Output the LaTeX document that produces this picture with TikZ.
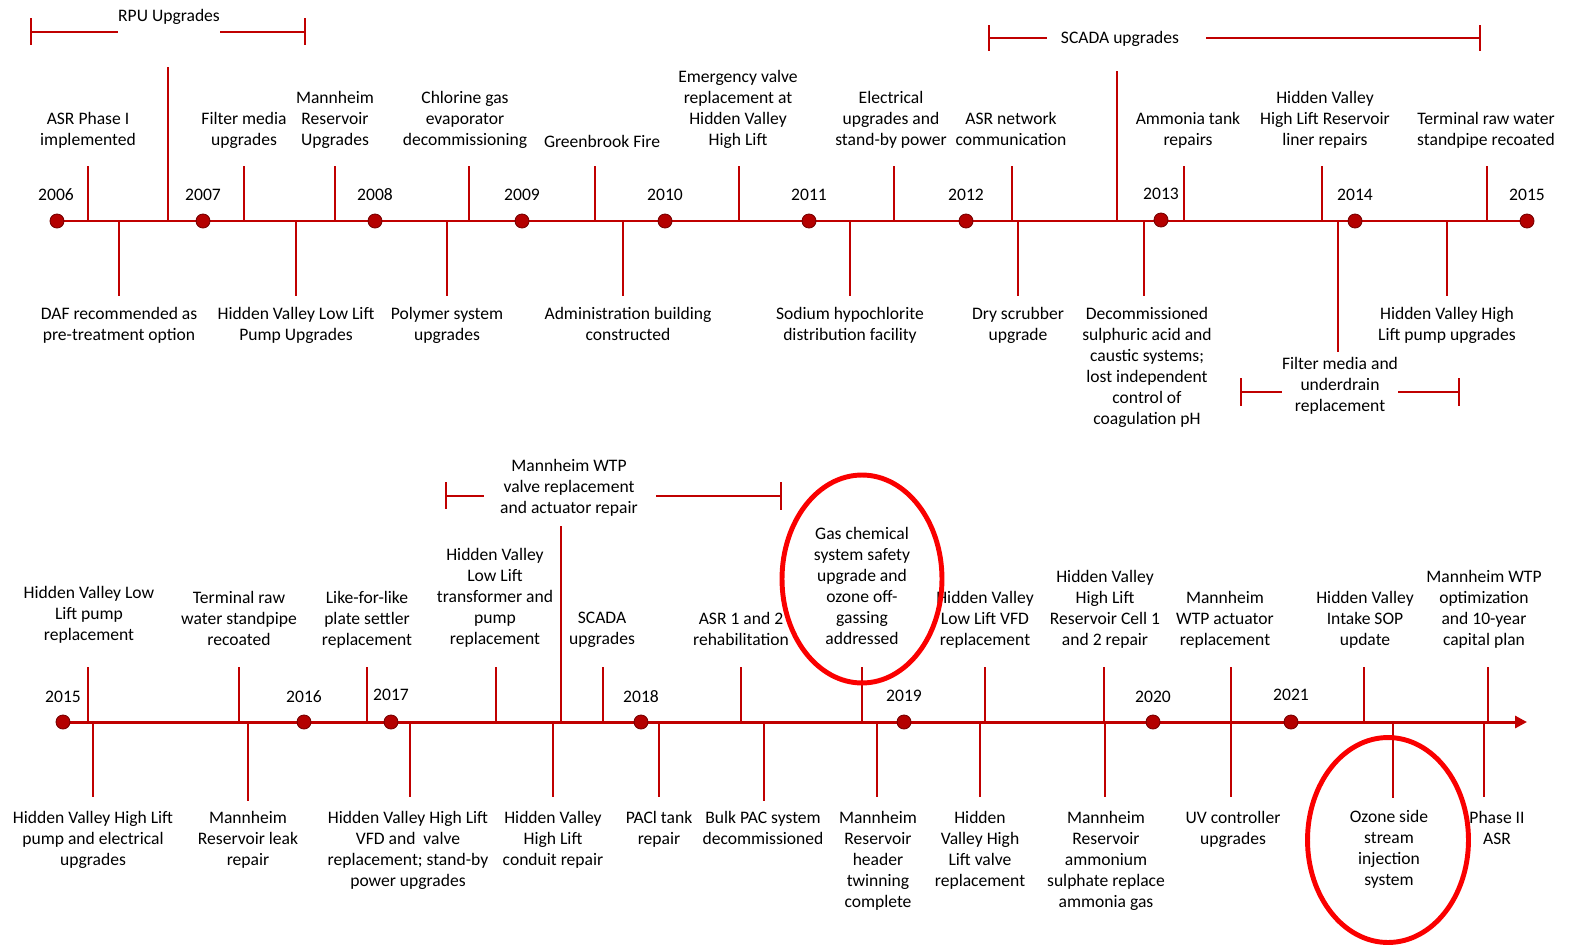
\documentclass[tikz,border=0pt]{standalone}
\usepackage{fontspec}
\setmainfont{Carlito}
\usetikzlibrary{arrows.meta,calc,shapes.geometric}
\definecolor{tlred}{RGB}{192,0,0}
\definecolor{dotred}{RGB}{180,0,0}
\definecolor{rimred}{RGB}{120,0,0}
\definecolor{ringred}{RGB}{250,0,0}

\begin{document}
\begin{tikzpicture}[x=0.02cm, y=-0.02cm, font=\fontsize{10}{12}\selectfont,
		tline/.style={tlred, line width=1.7pt},
		evtick/.style={tlred, line width=1.1pt},
		yeardot/.style={circle, fill=dotred, draw=rimred, line width=0.5pt, inner sep=0pt, minimum size=0.28cm},
		yearlbl/.style={inner sep=0pt, yshift=-0.02cm},
		evlabel/.style={align=center, anchor=north, inner sep=0pt, yshift=-0.02cm},
		ring/.style={ellipse, draw=ringred, line width=2.8pt, inner sep=0pt}]
		\path[use as bounding box] (0,0) rectangle (1569,947);
		
		% 2006 - 2015
		\coordinate (s1) at (57,221);
		\coordinate (e1) at (1527,221);
		\draw[tline] (s1) -- (e1);
		
		\node[evlabel] (asr) at (88,111) {ASR Phase I\\implemented};
		\coordinate (asrpt) at (88,221);
		\draw[evtick] (asrpt) -- ++(0,-55);
		\coordinate (rpupt) at (168,221);
		\draw[evtick] (rpupt) -- ++(0,-154);
		\node[evlabel] (filter) at (244,111) {Filter media\\upgrades};
		\coordinate (filterpt) at (244,221);
		\draw[evtick] (filterpt) -- ++(0,-55);
		\node[evlabel] (mannres) at (335,90) {Mannheim\\Reservoir\\Upgrades};
		\coordinate (mannrespt) at (335,221);
		\draw[evtick] (mannrespt) -- ++(0,-55);
		\node[evlabel] (chlorine) at (465,90) {Chlorine gas\\evaporator\\decommissioning};
		\coordinate (chlorinept) at (469,221);
		\draw[evtick] (chlorinept) -- ++(0,-55);
		\node[evlabel] (fire) at (602,134) {Greenbrook Fire};
		\coordinate (firept) at (595,221);
		\draw[evtick] (firept) -- ++(0,-55);
		\node[evlabel] (emerg) at (738,69) {Emergency valve\\replacement at\\Hidden Valley\\High Lift};
		\coordinate (emergpt) at (739,221);
		\draw[evtick] (emergpt) -- ++(0,-55);
		\node[evlabel] (elec) at (891,90) {Electrical\\upgrades and\\stand-by power};
		\coordinate (elecpt) at (894,221);
		\draw[evtick] (elecpt) -- ++(0,-55);
		\node[evlabel] (asrnet) at (1011,111) {ASR network\\communication};
		\coordinate (asrnetpt) at (1012,221);
		\draw[evtick] (asrnetpt) -- ++(0,-55);
		\coordinate (scadapt) at (1117,221);
		\draw[evtick] (scadapt) -- ++(0,-150);
		\node[evlabel] (ammonia) at (1188,111) {Ammonia tank\\repairs};
		\coordinate (ammoniapt) at (1184,221);
		\draw[evtick] (ammoniapt) -- ++(0,-55);
		\node[evlabel] (hvliner) at (1325,90) {Hidden Valley\\High Lift Reservoir\\liner repairs};
		\coordinate (hvlinerpt) at (1322,221);
		\draw[evtick] (hvlinerpt) -- ++(0,-55);
		\node[evlabel] (terminal) at (1486,111) {Terminal raw water\\standpipe recoated};
		\coordinate (terminalpt) at (1487,221);
		\draw[evtick] (terminalpt) -- ++(0,-55);
		
		\node[evlabel] (daf) at (119,306) {DAF recommended as\\pre-treatment option};
		\coordinate (dafpt) at (119,221);
		\draw[evtick] (dafpt) -- ++(0,75);
		\node[evlabel] (hvlow) at (296,306) {Hidden Valley Low Lift\\Pump Upgrades};
		\coordinate (hvlowpt) at (296,221);
		\draw[evtick] (hvlowpt) -- ++(0,75);
		\node[evlabel] (polymer) at (447,306) {Polymer system\\upgrades};
		\coordinate (polymerpt) at (447,221);
		\draw[evtick] (polymerpt) -- ++(0,75);
		\node[evlabel] (admin) at (628,306) {Administration building\\constructed};
		\coordinate (adminpt) at (623,221);
		\draw[evtick] (adminpt) -- ++(0,75);
		\node[evlabel] (sodium) at (850,306) {Sodium hypochlorite\\distribution facility};
		\coordinate (sodiumpt) at (850,221);
		\draw[evtick] (sodiumpt) -- ++(0,75);
		\node[evlabel] (dry) at (1018,306) {Dry scrubber\\upgrade};
		\coordinate (drypt) at (1018,221);
		\draw[evtick] (drypt) -- ++(0,75);
		\node[evlabel] (decomm) at (1147,306) {Decommissioned\\sulphuric acid and\\caustic systems;\\lost independent\\control of\\coagulation pH};
		\coordinate (decommpt) at (1144,221);
		\draw[evtick] (decommpt) -- ++(0,75);
		\node[evlabel] (underdrain) at (1340,356) {Filter media and\\underdrain\\replacement};
		\coordinate (underdrainpt) at (1338,221);
		\draw[evtick] (underdrainpt) -- ++(0,131);
		\node[evlabel] (hvhigh) at (1447,306) {Hidden Valley High\\Lift pump upgrades};
		\coordinate (hvhighpt) at (1447,221);
		\draw[evtick] (hvhighpt) -- ++(0,75);
		
		% spans
		\node[inner sep=0pt] (rpu) at (169,17) {RPU Upgrades};
		\coordinate (rpua) at (31,32);
		\coordinate (rpub) at (305,32);
		\draw[evtick] (rpua) -- (rpua -| rpu.west);
		\draw[evtick] (rpu.east |- rpub) -- (rpub);
		\draw[evtick] (rpua) ++(0,-14) -- ++(0,27);
		\draw[evtick] (rpub) ++(0,-14) -- ++(0,27);
		\node[inner sep=0pt] (scada) at (1120,39) {SCADA upgrades};
		\coordinate (scadaa) at (989,38);
		\coordinate (scadab) at (1480,38);
		\draw[evtick] (scadaa) -- ($(scadaa -| scada.west)+(-14,0)$);
		\draw[evtick] ($(scada.east |- scadab)+(27,0)$) -- (scadab);
		\draw[evtick] (scadaa) ++(0,-13) -- ++(0,26);
		\draw[evtick] (scadab) ++(0,-13) -- ++(0,26);
		\coordinate (undera) at (1241,392);
		\coordinate (underb) at (1459,392);
		\draw[evtick] (undera) -- (undera -| underdrain.west);
		\draw[evtick] (underdrain.east |- underb) -- (underb);
		\draw[evtick] (undera) ++(0,-14) -- ++(0,28);
		\draw[evtick] (underb) ++(0,-14) -- ++(0,28);
		
		\node[yeardot] (d06) at (57,221) {};
		\node[yeardot] (d07) at (203,221) {};
		\node[yeardot] (d08) at (375,221) {};
		\node[yeardot] (d09) at (522,221) {};
		\node[yeardot] (d10) at (665,221) {};
		\node[yeardot] (d11) at (809,221) {};
		\node[yeardot] (d12) at (966,221) {};
		\node[yeardot] (d13) at (1161,220) {};
		\node[yeardot] (d14) at (1355,221) {};
		\node[yeardot] (d15) at (1527,221) {};
		\node[yearlbl] (l06) at (56,194) {2006};
		\node[yearlbl] (l07) at (203,194) {2007};
		\node[yearlbl] (l08) at (375,194) {2008};
		\node[yearlbl] (l09) at (522,194) {2009};
		\node[yearlbl] (l10) at (665,194) {2010};
		\node[yearlbl] (l11) at (809,194) {2011};
		\node[yearlbl] (l12) at (966,194) {2012};
		\node[yearlbl] (l13) at (1161,193) {2013};
		\node[yearlbl] (l14) at (1355,194) {2014};
		\node[yearlbl] (l15) at (1527,194) {2015};
		
		% 2015 - 2021
		\coordinate (s2) at (63,722);
		\coordinate (e2) at (1527,722);
		\draw[tline, -{Triangle[length=0.24cm, width=0.24cm]}] (s2) -- (e2);
		
		\node[evlabel] (hvlowrep) at (89,585) {Hidden Valley Low\\Lift pump\\replacement};
		\coordinate (hvlowreppt) at (88,722);
		\draw[evtick] (hvlowreppt) -- ++(0,-55);
		\node[evlabel] (terminalb) at (239,590) {Terminal raw\\water standpipe\\recoated};
		\coordinate (terminalbpt) at (239,722);
		\draw[evtick] (terminalbpt) -- ++(0,-55);
		\node[evlabel] (settler) at (367,590) {Like-for-like\\plate settler\\replacement};
		\coordinate (settlerpt) at (367,722);
		\draw[evtick] (settlerpt) -- ++(0,-55);
		\node[evlabel] (hvtrans) at (495,547) {Hidden Valley\\Low Lift\\transformer and\\pump\\replacement};
		\coordinate (hvtranspt) at (496,722);
		\draw[evtick] (hvtranspt) -- ++(0,-55);
		\coordinate (mwtppt) at (561,722);
		\draw[evtick] (mwtppt) -- ++(0,-196);
		\node[evlabel] (scadab) at (602,611) {SCADA\\upgrades};
		\coordinate (scadabpt) at (603,722);
		\draw[evtick] (scadabpt) -- ++(0,-55);
		\node[evlabel] (asrreh) at (741,611) {ASR 1 and 2\\rehabilitation};
		\coordinate (asrrehpt) at (741,722);
		\draw[evtick] (asrrehpt) -- ++(0,-55);
		\node[evlabel] (gaschem) at (862,526) {Gas chemical\\system safety\\upgrade and\\ozone off-\\gassing\\addressed};
		\coordinate (gaschempt) at (862,722);
		\draw[evtick] (gaschempt) -- ++(0,-55);
		\node[evlabel] (hvvfd) at (985,590) {Hidden Valley\\Low Lift VFD\\replacement};
		\coordinate (hvvfdpt) at (985,722);
		\draw[evtick] (hvvfdpt) -- ++(0,-55);
		\node[evlabel] (hvcell) at (1105,569) {Hidden Valley\\High Lift\\Reservoir Cell 1\\and 2 repair};
		\coordinate (hvcellpt) at (1104,722);
		\draw[evtick] (hvcellpt) -- ++(0,-55);
		\node[evlabel] (mwtpact) at (1225,590) {Mannheim\\WTP actuator\\replacement};
		\coordinate (mwtpactpt) at (1231,722);
		\draw[evtick] (mwtpactpt) -- ++(0,-55);
		\node[evlabel] (hvsop) at (1365,590) {Hidden Valley\\Intake SOP\\update};
		\coordinate (hvsoppt) at (1364,722);
		\draw[evtick] (hvsoppt) -- ++(0,-55);
		\node[evlabel] (mwtpopt) at (1484,569) {Mannheim WTP\\optimization\\and 10-year\\capital plan};
		\coordinate (mwtpoptpt) at (1488,722);
		\draw[evtick] (mwtpoptpt) -- ++(0,-55);
		
		\node[evlabel] (hvelec) at (93,810) {Hidden Valley High Lift\\pump and electrical\\upgrades};
		\coordinate (hvelecpt) at (93,722);
		\draw[evtick] (hvelecpt) -- ++(0,75);
		\node[evlabel] (leak) at (248,810) {Mannheim\\Reservoir leak\\repair};
		\coordinate (leakpt) at (248,722);
		\draw[evtick] (leakpt) -- ++(0,79);
		\node[evlabel] (hvvalve) at (408,810) {Hidden Valley High Lift\\VFD and~ valve\\replacement; stand-by\\power upgrades};
		\coordinate (hvvalvept) at (410,722);
		\draw[evtick] (hvvalvept) -- ++(0,75);
		\node[evlabel] (conduit) at (553,810) {Hidden Valley\\High Lift\\conduit repair};
		\coordinate (conduitpt) at (553,722);
		\draw[evtick] (conduitpt) -- ++(0,75);
		\node[evlabel] (pacl) at (659,810) {PACl tank\\repair};
		\coordinate (paclpt) at (659,722);
		\draw[evtick] (paclpt) -- ++(0,75);
		\node[evlabel] (bulkpac) at (763,810) {Bulk PAC system\\decommissioned};
		\coordinate (bulkpacpt) at (764,722);
		\draw[evtick] (bulkpacpt) -- ++(0,79);
		\node[evlabel] (header) at (878,810) {Mannheim\\Reservoir\\header\\twinning\\complete};
		\coordinate (headerpt) at (877,722);
		\draw[evtick] (headerpt) -- ++(0,75);
		\node[evlabel] (hvlift) at (980,810) {Hidden\\Valley High\\Lift valve\\replacement};
		\coordinate (hvliftpt) at (980,722);
		\draw[evtick] (hvliftpt) -- ++(0,75);
		\node[evlabel] (ammonium) at (1106,810) {Mannheim\\Reservoir\\ammonium\\sulphate replace\\ammonia gas};
		\coordinate (ammoniumpt) at (1105,722);
		\draw[evtick] (ammoniumpt) -- ++(0,75);
		\node[evlabel] (uvctrl) at (1233,810) {UV controller\\upgrades};
		\coordinate (uvctrlpt) at (1231,722);
		\draw[evtick] (uvctrlpt) -- ++(0,75);
		\node[evlabel] (ozone) at (1389,809) {Ozone side\\stream\\injection\\system};
		\coordinate (ozonept) at (1393,722);
		\draw[evtick] (ozonept) -- ++(0,76);
		\node[evlabel] (phasetwo) at (1497,810) {Phase II\\ASR};
		\coordinate (phasetwopt) at (1484,722);
		\draw[evtick] (phasetwopt) -- ++(0,75);
		
		% span
		\node[evlabel] (mwtp) at (569,458) {Mannheim WTP\\valve replacement\\and actuator repair};
		\coordinate (mwtpa) at (446,496);
		\coordinate (mwtpb) at (781,496);
		\draw[evtick] (mwtpa) -- ($(mwtpa -| mwtp.west)+(-16,0)$);
		\draw[evtick] ($(mwtp.east |- mwtpb)+(18,0)$) -- (mwtpb);
		\draw[evtick] (mwtpa) ++(0,-14) -- ++(0,27);
		\draw[evtick] (mwtpb) ++(0,-14) -- ++(0,28);
		
		\node[yeardot] (d15b) at (63,722) {};
		\node[yeardot] (d16) at (304,722) {};
		\node[yeardot] (d17) at (391,722) {};
		\node[yeardot] (d18) at (641,722) {};
		\node[yeardot] (d19) at (904,722) {};
		\node[yeardot] (d20) at (1153,722) {};
		\node[yeardot] (d21) at (1291,722) {};
		\node[yearlbl] (l15b) at (63,696) {2015};
		\node[yearlbl] (l16) at (304,696) {2016};
		\node[yearlbl] (l17) at (391,694) {2017};
		\node[yearlbl] (l18) at (641,696) {2018};
		\node[yearlbl] (l19) at (904,695) {2019};
		\node[yearlbl] (l20) at (1153,696) {2020};
		\node[yearlbl] (l21) at (1291,694) {2021};
		
		% highlights
		\node[ring, minimum width=3.2cm, minimum height=4.16cm] (gasring) at (862,579) {};
		\node[ring, minimum width=3.22cm, minimum height=4.1cm] (ozonering) at (1388,840) {};
	\end{tikzpicture}
\end{document}
